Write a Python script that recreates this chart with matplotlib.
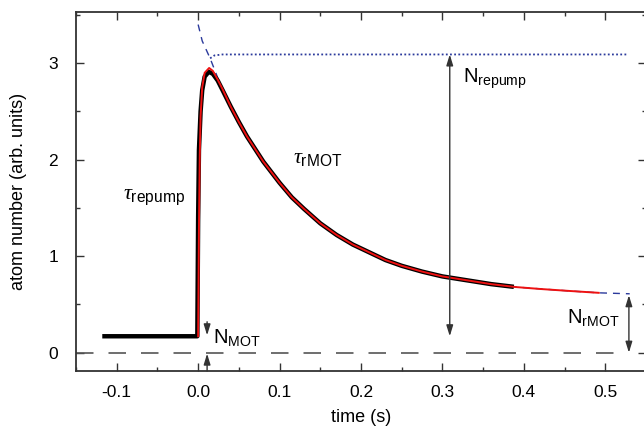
import matplotlib.pyplot as plt
from matplotlib.ticker import MultipleLocator

plt.rcParams['font.family'] = ['Liberation Sans', 'DejaVu Sans']
plt.rcParams['mathtext.fontset'] = 'custom'
plt.rcParams['mathtext.rm'] = 'Liberation Sans'
plt.rcParams['mathtext.it'] = 'Liberation Serif:italic'

# measured trace (loading after the repump is switched on)
data_t = [-0.115, -0.060, -0.001, 0.000, 0.001, 0.003, 0.005, 0.008, 0.013,
          0.018, 0.024, 0.030, 0.040, 0.050, 0.060, 0.070, 0.080, 0.090,
          0.100, 0.115, 0.130, 0.150, 0.170, 0.190, 0.210, 0.230, 0.250,
          0.275, 0.300, 0.330, 0.360, 0.385]
data_n = [0.17, 0.17, 0.17, 1.40, 2.10, 2.50, 2.72, 2.86, 2.91,
          2.89, 2.82, 2.72, 2.55, 2.39, 2.24, 2.11, 1.98, 1.87,
          1.76, 1.61, 1.49, 1.34, 1.22, 1.12, 1.04, 0.96, 0.90,
          0.84, 0.79, 0.75, 0.71, 0.685]

# fit
fit_t = [0.000, 0.001, 0.002, 0.003, 0.005, 0.008, 0.0135, 0.018, 0.024,
         0.030, 0.040, 0.050, 0.060, 0.070, 0.080, 0.090, 0.100, 0.115,
         0.130, 0.150, 0.170, 0.190, 0.210, 0.230, 0.250, 0.275, 0.300,
         0.330, 0.360, 0.390, 0.420, 0.455, 0.492]
fit_n = [0.17, 1.30, 2.05, 2.45, 2.75, 2.90, 2.95, 2.92, 2.83,
         2.73, 2.55, 2.39, 2.24, 2.11, 1.98, 1.87, 1.76, 1.61,
         1.49, 1.34, 1.22, 1.12, 1.04, 0.96, 0.90, 0.84, 0.79,
         0.75, 0.71, 0.68, 0.66, 0.64, 0.62]

# rMOT decay extrapolated back to t = 0
decay_t = [0.000, 0.005, 0.0147, 0.030, 0.050, 0.070, 0.090, 0.115, 0.150,
           0.190, 0.230, 0.275, 0.330, 0.390, 0.455, 0.492, 0.530]
decay_n = [3.40, 3.23, 3.05, 2.72, 2.39, 2.11, 1.87, 1.61, 1.34,
           1.12, 0.96, 0.84, 0.75, 0.68, 0.64, 0.62, 0.61]

# repump loading level
load_t = [0.0147, 0.020, 0.030, 0.527]
load_n = [3.05, 3.08, 3.09, 3.09]

n_mot = 0.17
n_repump_top = 3.09
n_rmot = 0.60

fig = plt.figure(figsize=(6.44, 4.30), dpi=100)
ax = fig.add_axes([76 / 644, 1 - 371 / 430, 570 / 644, 359 / 430])

blue = '#2b3a9c'
grey = '#555555'
ax.plot([-0.15, 0.528], [0, 0], color=grey, lw=1.2, ls=(0, (10.5, 9)))
ax.plot(decay_t, decay_n, color=blue, lw=1.0, ls=(0, (5, 4.3)))
ax.plot(load_t, load_n, color=blue, lw=1.3, ls=(0, (1, 1.3)))
ax.plot(data_t, data_n, color='black', lw=3.2, solid_joinstyle='round')
ax.plot(fit_t, fit_n, color='#ee1111', lw=1.4)

arrow = dict(color='#333333', lw=1.0, shrinkA=0, shrinkB=0, mutation_scale=10)
ax.annotate('', xy=(0.309, n_repump_top), xytext=(0.309, n_mot),
            arrowprops=dict(arrowstyle='<|-|>,head_length=0.65,head_width=0.2', **arrow))
ax.annotate('', xy=(0.529, n_rmot - 0.005), xytext=(0.529, 0.0),
            arrowprops=dict(arrowstyle='<|-|>,head_length=0.65,head_width=0.2', **arrow))
ax.annotate('', xy=(0.011, n_mot + 0.01), xytext=(0.011, 0.32),
            arrowprops=dict(arrowstyle='-|>,head_length=0.65,head_width=0.2', **arrow))
ax.annotate('', xy=(0.011, -0.01), xytext=(0.011, -0.19),
            arrowprops=dict(arrowstyle='-|>,head_length=0.65,head_width=0.2', **arrow))

ax.text(0.325, 2.795, r'N$_{\mathrm{repump}}$', fontsize=14.5)
ax.text(0.018, 0.10, r'N$_{\mathrm{MOT}}$', fontsize=14.5)
ax.text(0.453, 0.31, r'N$_{\mathrm{rMOT}}$', fontsize=14.5)
ax.text(-0.092, 1.59, r'$\tau_{\mathrm{repump}}$', fontsize=16)
ax.text(0.117, 1.97, r'$\tau_{\mathrm{rMOT}}$', fontsize=16)

ax.set_xlim(-0.15, 0.55)
ax.set_ylim(-0.19, 3.53)
ax.xaxis.set_major_locator(MultipleLocator(0.1))
ax.xaxis.set_minor_locator(MultipleLocator(0.05))
ax.yaxis.set_major_locator(MultipleLocator(1))
ax.yaxis.set_minor_locator(MultipleLocator(0.5))
ax.set_xticks([-0.1, 0.0, 0.1, 0.2, 0.3, 0.4, 0.5])
ax.set_xticklabels(['-0.1', '0.0', '0.1', '0.2', '0.3', '0.4', '0.5'])
ax.tick_params(which='both', direction='in', top=True, right=True,
               color='#333333', width=1.0, labelsize=12.5)
ax.tick_params(which='major', length=6)
ax.tick_params(which='minor', length=3)
ax.tick_params(axis='y', pad=13)
ax.tick_params(axis='x', pad=10)
for s in ax.spines.values():
    s.set_color('#333333')
    s.set_linewidth(1.3)

ax.set_xlabel('time (s)', fontsize=13)
ax.set_ylabel('atom number (arb. units)', fontsize=13)
ax.xaxis.set_label_coords(0.5, -0.106)
ax.yaxis.set_label_coords(-0.086, 0.5)

fig.savefig('out.png', dpi=100)
